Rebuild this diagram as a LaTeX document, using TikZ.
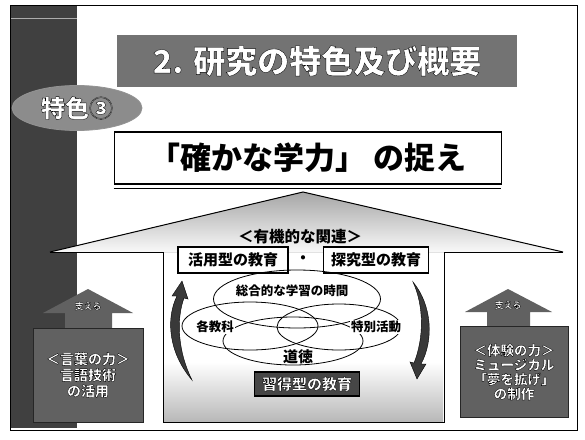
\documentclass[tikz,border=0pt]{standalone}
\usepackage{fontspec}
\setmainfont{Noto Sans CJK JP}
\usetikzlibrary{shapes.geometric,arrows.meta}
\definecolor{bandcol}{gray}{0.25}
\definecolor{boxcol}{gray}{0.38}
\definecolor{bannercol}{gray}{0.45}
\definecolor{ovalcol}{gray}{0.55}
\newcommand{\fs}[1]{\fontsize{#1}{#1}\selectfont}
\newcommand{\wt}[1]{{\color{white}\special{pdf:literal direct 2 Tr 0 G 0.35 w}#1\special{pdf:literal direct 0 Tr}}}
\begin{document}
\begin{tikzpicture}[x=1pt,y=-1pt,
  edubox/.style={draw=black, line width=1.4pt, fill=white, inner sep=3pt, font=\bfseries\fs{15}},
  venn/.style={draw=black, line width=0.8pt, ellipse},
  vlabel/.style={font=\bfseries\fs{12.5}, inner sep=0pt},
  sidebox/.style={fill=boxcol, draw=gray!30!black, align=center, font=\bfseries\fs{14}, inner sep=0pt},
  arrowfill/.style={fill=boxcol},
  curvarrow/.style={fill=gray!45!black, draw=black, line width=0.4pt}
]
\useasboundingbox (0,0) rectangle (585,439);
\fill[white] (0,0) rectangle (585,439);
% left dark band and frame
\fill[bandcol] (10,5) rectangle (77,428);
\draw[gray!65, line width=0.8pt] (10,18) -- (77,18);
\draw[line width=1pt] (10,5) rectangle (577,430);
% title banner
\node[fill=bannercol, minimum width=400pt, minimum height=52pt, inner sep=0pt,
      font=\bfseries\fs{32}] (banner) at (317,61) {\wt{2. 研究の特色及び概要}};
% feature oval
\node[ellipse, fill=ovalcol, draw=gray!85, line width=0.8pt, minimum width=130pt,
      minimum height=45pt, inner sep=0pt, font=\bfseries\fs{24}] (feat) at (77,108) {\wt{特色③}};
% main title box
\node[draw=black, line width=1.6pt, fill=white, minimum width=387pt, minimum height=52pt,
      inner sep=0pt, font=\bfseries\fs{31}] (main) at (308,158) {「確かな学力」 の捉え};
\draw[line width=0.6pt] (main.south west) ++(0,3) -- ++(387,0);
% roof
\fill[top color=gray!70, bottom color=gray!5] (50,252) -- (303,192) -- (563,252) -- cycle;
\fill[top color=white, bottom color=gray!55] (164,362) rectangle (443,421);
\draw[line width=1pt] (50,252) -- (303,192) -- (563,252);
\draw[line width=0.8pt] (50,252) -- (163,252) -- (163,422) -- (444,422) -- (444,252) -- (563,252);
% relation header
\node[font=\bfseries\fs{15.5}, inner sep=0pt] (rel) at (300,237) {＜有機的な関連＞};
\node[edubox, minimum width=110pt, minimum height=26pt] (kat) at (233,260) {活用型の教育};
\node[font=\bfseries\fs{15}, inner sep=0pt] (dot) at (303,260) {・};
\node[edubox, minimum width=105pt, minimum height=26pt] (tan) at (376,260) {探究型の教育};
% venn ellipses
\node[venn, minimum width=167pt, minimum height=58pt] (e1) at (297,299) {};
\node[venn, minimum width=136pt, minimum height=48pt] (e2) at (250,326) {};
\node[venn, minimum width=124pt, minimum height=46pt] (e3) at (339,327) {};
\node[venn, minimum width=140pt, minimum height=48pt] (e4) at (293,341) {};
\node[vlabel] (l1) at (292,291) {総合的な学習の時間};
\node[vlabel, fill=white, inner sep=1pt] (l2) at (215,327) {各教科};
\node[vlabel, fill=white, inner sep=1pt] (l3) at (376,327) {特別活動};
\node[vlabel, font=\bfseries\fs{15}] (l4) at (298,357) {道徳};
% acquisition box
\node[draw=black, line width=1.6pt, fill=gray!55!black, minimum width=105pt, minimum height=24pt,
      inner sep=0pt, font=\bfseries\fs{15}] (shu) at (307,384) {\wt{習得型の教育}};
% curved arrows
\path[curvarrow] (192,380) .. controls (168,352) and (166,318) .. (177,296)
  -- (172,296) -- (182,281) -- (188,299) -- (184,298)
  .. controls (176,320) and (178,352) .. (192,380) -- cycle;
\path[curvarrow] (413,282) .. controls (432,305) and (434,340) .. (421,364)
  -- (426,364) -- (417,379) -- (410,362) -- (414,363)
  .. controls (424,338) and (424,306) .. (413,282) -- cycle;
% side arrows
\path[arrowfill] (43,313) -- (88,289) -- (133,313) -- (112,313) -- (112,330)
  -- (65,330) -- (65,313) -- cycle;
\path[arrowfill] (465,312) -- (508,289) -- (552,312) -- (530,312) -- (530,329)
  -- (487,329) -- (487,312) -- cycle;
\node[font=\bfseries\fs{9}, inner sep=0pt] (sl) at (88,306) {\wt{支える}};
\node[font=\bfseries\fs{9}, inner sep=0pt] (sr) at (508,305) {\wt{支える}};
\node[sidebox, minimum width=110pt, minimum height=94pt] (lb) at (88,375)
  {\wt{＜言葉の力＞}\\[2pt]\wt{言語技術}\\[2pt]\wt{の活用}};
\node[sidebox, minimum width=108pt, minimum height=91pt, font=\bfseries\fs{13.5}] (rb) at (514,372)
  {\wt{＜体験の力＞}\\[1pt]\wt{ミュージカル}\\[1pt]\wt{「夢を拡げ」}\\[1pt]\wt{の制作}};
\end{tikzpicture}
\end{document}
